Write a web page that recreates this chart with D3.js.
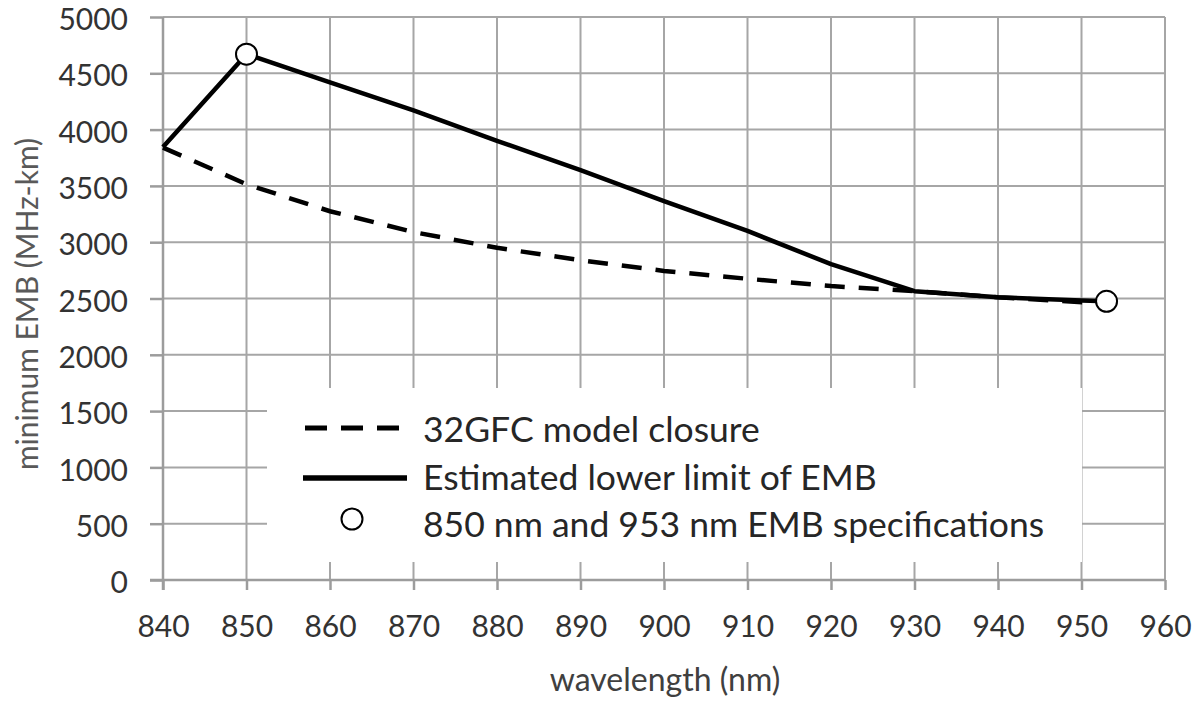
<!DOCTYPE html>
<html>
<head>
  <meta charset="utf-8">
  <script src="https://d3js.org/d3.v7.min.js"></script>
  <style>
    html, body { margin: 0; padding: 0; background: #ffffff; }
    svg { display: block; font-family: Lato, "Open Sans", sans-serif; }
    .grid line { stroke: #a6a6a6; stroke-width: 2; }
    .axis path, .axis line { stroke: #9c9c9c; stroke-width: 2.5; }
    .axis text { fill: #333333; font-size: 30px; font-family: Lato, "Open Sans", sans-serif; }
  </style>
</head>
<body>
  <svg id="canvas" width="1197" height="702"></svg>
<script>
  // wavelengths (nm) and minimum EMB (MHz-km)
  const closureWavelengths = [840, 850, 860, 870, 880, 890, 900, 910, 920, 930, 940, 953];
  const closureValues = [3840, 3515, 3275, 3090, 2950, 2840, 2745, 2675, 2610, 2565, 2510, 2455];

  const limitWavelengths = [840, 850, 860, 870, 880, 890, 900, 910, 920, 930, 940, 950, 953];
  const limitValues = [3845, 4670, 4420, 4170, 3900, 3640, 3365, 3100, 2805, 2565, 2512, 2482, 2475];

  const specWavelengths = [850, 953];
  const specValues = [4670, 2475];

  const xTicks = [840, 850, 860, 870, 880, 890, 900, 910, 920, 930, 940, 950, 960];
  const yTicks = [0, 500, 1000, 1500, 2000, 2500, 3000, 3500, 4000, 4500, 5000];

  const legendLabels = ["32GFC model closure", "Estimated lower limit of EMB", "850 nm and 953 nm EMB specifications"];

  const svg = d3.select("#canvas");
  const plot = { left: 163, right: 1165, top: 17, bottom: 580 };

  const x = d3.scaleLinear().domain([840, 960]).range([plot.left, plot.right]);
  const y = d3.scaleLinear().domain([0, 5000]).range([plot.bottom, plot.top]);

  // gridlines
  const grid = svg.append("g").attr("class", "grid");
  grid.selectAll(".h").data(yTicks.filter(d => d > 0)).join("line")
      .attr("x1", plot.left).attr("x2", plot.right)
      .attr("y1", d => y(d)).attr("y2", d => y(d));
  grid.selectAll(".v").data(xTicks.filter(d => d > 840)).join("line")
      .attr("x1", d => x(d)).attr("x2", d => x(d))
      .attr("y1", plot.top).attr("y2", plot.bottom);

  // axes with outside tick marks
  svg.append("g").attr("class", "axis")
      .attr("transform", `translate(${plot.left},0)`)
      .call(d3.axisLeft(y).tickValues(yTicks).tickFormat(d3.format("d"))
          .tickSize(13).tickSizeOuter(0).tickPadding(22))
      .call(g => g.select(".domain").attr("d", `M0,${plot.top}V${plot.bottom + 10}`))
      .call(g => g.selectAll(".tick text").attr("dy", "0.42em"));
  svg.append("g").attr("class", "axis")
      .attr("transform", `translate(0,${plot.bottom})`)
      .call(d3.axisBottom(x).tickValues(xTicks).tickFormat(d3.format("d"))
          .tickSize(10).tickSizeOuter(0).tickPadding(26))
      .call(g => g.select(".domain").attr("d", `M${plot.left - 13},0H${plot.right}`));

  // legend background box covers the grid
  svg.append("rect")
      .attr("x", 267).attr("y", 388)
      .attr("width", 1082 - 267).attr("height", 562 - 388)
      .attr("fill", "#ffffff");

  const line = d3.line().x(d => x(d[0])).y(d => y(d[1]));

  svg.append("path")
      .datum(d3.zip(closureWavelengths, closureValues))
      .attr("d", line)
      .attr("fill", "none")
      .attr("stroke", "#000")
      .attr("stroke-width", 4.5)
      .attr("stroke-dasharray", "20,14");

  svg.append("path")
      .datum(d3.zip(limitWavelengths, limitValues))
      .attr("d", line)
      .attr("fill", "none")
      .attr("stroke", "#000")
      .attr("stroke-width", 4.5)
      .attr("stroke-linejoin", "round");

  svg.selectAll(".spec").data(d3.zip(specWavelengths, specValues)).join("circle")
      .attr("cx", d => x(d[0])).attr("cy", d => y(d[1]))
      .attr("r", 10.5)
      .attr("fill", "#fff").attr("stroke", "#000").attr("stroke-width", 2);

  // legend
  const legend = svg.append("g");
  legend.append("line").attr("x1", 305).attr("x2", 402).attr("y1", 428).attr("y2", 428)
      .attr("stroke", "#000").attr("stroke-width", 5).attr("stroke-dasharray", "22,14");
  legend.append("line").attr("x1", 303).attr("x2", 407).attr("y1", 478).attr("y2", 478)
      .attr("stroke", "#000").attr("stroke-width", 5.5);
  legend.append("circle").attr("cx", 352).attr("cy", 519).attr("r", 10.5)
      .attr("fill", "#fff").attr("stroke", "#000").attr("stroke-width", 2);
  legend.selectAll("text").data(legendLabels).join("text")
      .attr("x", 423).attr("y", (d, i) => 442 + i * 47.5)
      .attr("fill", "#262626")
      .style("font-size", "35.5px")
      .text(d => d);

  // axis titles
  svg.append("text")
      .attr("x", 665).attr("y", 691)
      .attr("text-anchor", "middle")
      .attr("fill", "#404040")
      .style("font-size", "32px")
      .text("wavelength (nm)");
  svg.append("text")
      .attr("transform", "translate(38,304) rotate(-90)")
      .attr("text-anchor", "middle")
      .attr("fill", "#595959")
      .style("font-size", "30px")
      .text("minimum  EMB (MHz-km)");
</script>
</body>
</html>
